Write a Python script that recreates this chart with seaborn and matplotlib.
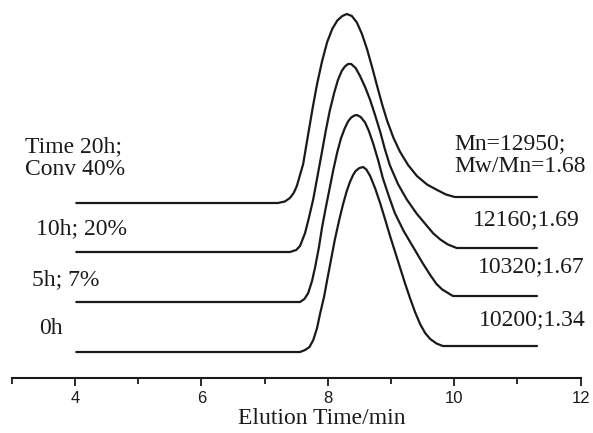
import numpy as np
import pandas as pd
import matplotlib
matplotlib.use('Agg')
import matplotlib.pyplot as plt
import seaborn as sns

# GPC traces: elution time (min) and detector signal (a.u.)
t_20h = [4.02, 7.21, 7.32, 7.40, 7.46, 7.51, 7.61, 7.69, 7.76, 7.83, 7.91, 7.99, 8.07, 8.15, 8.23, 8.30,
         8.38, 8.46, 8.54, 8.62, 8.70, 8.78, 8.86, 8.94, 9.04, 9.14, 9.27, 9.41, 9.57, 9.73, 9.87, 10.01, 11.31]
s_20h = [0.00, 0.00, 0.03, 0.10, 0.20, 0.34, 0.78, 1.38, 1.90, 2.38, 2.84, 3.22, 3.48, 3.65, 3.74, 3.78,
         3.74, 3.61, 3.38, 3.08, 2.72, 2.34, 1.97, 1.64, 1.30, 1.03, 0.76, 0.54, 0.37, 0.26, 0.17, 0.12, 0.12]

t_10h = [4.02, 7.40, 7.50, 7.56, 7.64, 7.70, 7.77, 7.84, 7.91, 7.97, 8.03, 8.10, 8.16, 8.22, 8.27, 8.32,
         8.37, 8.44, 8.51, 8.59, 8.67, 8.75, 8.83, 8.90, 8.98, 9.11, 9.25, 9.41, 9.57, 9.67, 9.78, 9.90, 10.04, 11.31]
s_10h = [0.00, 0.00, 0.04, 0.12, 0.38, 0.68, 1.06, 1.54, 2.02, 2.44, 2.82, 3.18, 3.44, 3.62, 3.71, 3.76,
         3.76, 3.68, 3.52, 3.30, 3.04, 2.73, 2.40, 2.07, 1.74, 1.36, 1.05, 0.76, 0.52, 0.37, 0.25, 0.15, 0.08, 0.08]

t_5h = [4.02, 7.56, 7.63, 7.69, 7.75, 7.80, 7.86, 7.91, 7.97, 8.03, 8.09, 8.15, 8.21, 8.27, 8.32, 8.37, 8.42,
        8.46, 8.52, 8.59, 8.65, 8.72, 8.80, 8.87, 8.97, 9.06, 9.20, 9.35, 9.49, 9.62, 9.72, 9.81, 9.98, 11.31]
s_5h = [0.00, 0.00, 0.06, 0.18, 0.42, 0.70, 1.10, 1.50, 1.90, 2.28, 2.66, 3.00, 3.28, 3.48, 3.61, 3.69, 3.73,
        3.74, 3.70, 3.59, 3.42, 3.16, 2.82, 2.48, 2.10, 1.78, 1.42, 1.10, 0.80, 0.54, 0.36, 0.25, 0.12, 0.12]

t_0h = [4.02, 7.56, 7.64, 7.71, 7.77, 7.83, 7.88, 7.94, 7.99, 8.05, 8.11, 8.18, 8.24, 8.30, 8.35, 8.40, 8.44,
        8.50, 8.56, 8.61, 8.67, 8.75, 8.83, 8.90, 8.98, 9.06, 9.14, 9.22, 9.30, 9.38, 9.46, 9.54, 9.62, 9.72,
        9.82, 11.31]
s_0h = [0.00, 0.00, 0.04, 0.10, 0.24, 0.48, 0.78, 1.10, 1.44, 1.84, 2.24, 2.64, 2.95, 3.22, 3.40, 3.54, 3.62,
        3.68, 3.70, 3.65, 3.52, 3.27, 2.97, 2.68, 2.34, 2.02, 1.70, 1.38, 1.08, 0.80, 0.56, 0.38, 0.26, 0.17,
        0.12, 0.12]

samples = ['0h', '5h', '10h', '20h']
offsets = [0.52, 1.52, 2.52, 3.50]
left_labels = ['0h', '5h; 7%', '10h; 20%', 'Time 20h;\nConv 40%']
right_labels = ['10200;1.34', '10320;1.67', '12160;1.69', 'Mn=12950;\nMw/Mn=1.68']

times = [t_0h, t_5h, t_10h, t_20h]
signals = [s_0h, s_5h, s_10h, s_20h]

frames = []
for name, off, t, s in zip(samples, offsets, times, signals):
    frames.append(pd.DataFrame({'time': t, 'signal': np.array(s) + off, 'sample': name}))
df = pd.concat(frames, ignore_index=True)

sns.set_style('white')
plt.rcParams['font.family'] = ['Liberation Serif', 'DejaVu Serif']

fig = plt.figure(figsize=(5.93, 4.33), dpi=100)
ax = fig.add_axes([0, 0.127, 1, 0.873])

for name in samples:
    sub = df[df['sample'] == name]
    sns.lineplot(data=sub, x='time', y='signal', sort=False, estimator=None,
                 color='#1a1a1a', linewidth=1.6, ax=ax)

# text positions (left x, centre y)
left_pos = [(3.43, 1.00), (3.32, 1.96), (3.38, 2.98), (3.21, 4.40)]
right_pos = [(10.39, 1.16), (10.38, 2.22), (10.30, 3.16), (10.01, 4.46)]
for lab, (x, y) in zip(left_labels, left_pos):
    ax.text(x, y, lab, ha='left', va='center', fontsize=17, color='#1a1a1a', linespacing=1.15)
for lab, (x, y) in zip(right_labels, right_pos):
    ax.text(x, y, lab, ha='left', va='center', fontsize=17, color='#1a1a1a', linespacing=1.15)

ax.set_xlim(2.813, 12.196)
ax.set_ylim(0, 7.56)
for side in ['top', 'right', 'left']:
    ax.spines[side].set_visible(False)
ax.spines['bottom'].set_bounds(3, 12)
ax.spines['bottom'].set_color('#1a1a1a')
ax.spines['bottom'].set_linewidth(1.5)
ax.set_yticks([])
ax.set_xticks([4, 6, 8, 10, 12])
ax.set_xticks([3, 5, 7, 9, 11], minor=True)
ax.tick_params(axis='x', which='both', bottom=True)
ax.tick_params(axis='x', which='major', direction='out', length=6, width=1.3,
               labelsize=12, pad=3, colors='#1a1a1a')
ax.tick_params(axis='x', which='minor', direction='out', length=4, width=1.3, colors='#1a1a1a')
for lbl in ax.get_xticklabels():
    lbl.set_family(['Liberation Sans', 'DejaVu Sans'])
ax.set_xlabel('Elution Time/min', fontsize=17, color='#1a1a1a')
ax.xaxis.set_label_coords((7.9 - 2.813) / (12.196 - 2.813), -0.08)
ax.set_ylabel('')

fig.savefig('out.png', dpi=100)
